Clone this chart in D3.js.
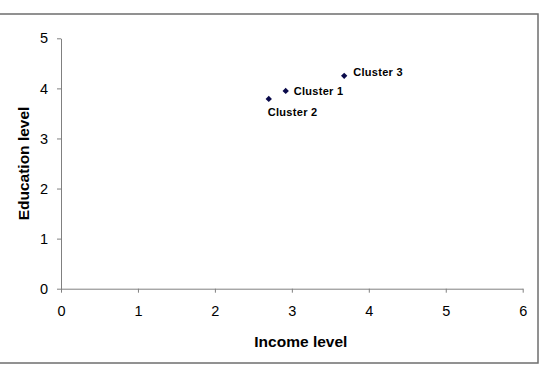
<!DOCTYPE html>
<html>
<head>
<meta charset="utf-8">
<script src="https://cdn.jsdelivr.net/npm/d3@7"></script>
<style>
  body { margin: 0; background: #fff; }
  svg { display: block; font-family: "Liberation Sans", Arial, sans-serif; }
</style>
</head>
<body>
<script>
// data
var clusters = ["Cluster 1", "Cluster 2", "Cluster 3"];
var income = [2.92, 2.70, 3.68];
var education = [3.95, 3.79, 4.25];
var xTicks = [0, 1, 2, 3, 4, 5, 6];
var yTicks = [0, 1, 2, 3, 4, 5];

var W = 540, H = 369;
var svg = d3.select("body").append("svg")
    .attr("width", W)
    .attr("height", H);

// outer chart frame
svg.append("rect")
    .attr("x", -1).attr("y", 14)
    .attr("width", 539).attr("height", 349)
    .attr("fill", "#fff")
    .attr("stroke", "#6e6e6e")
    .attr("stroke-width", 1.5);

var x = d3.scaleLinear().domain([0, 6]).range([61, 522.7]);
var y = d3.scaleLinear().domain([0, 5]).range([288.7, 38.3]);

// x axis
var gx = svg.append("g")
    .attr("transform", "translate(0," + y(0) + ")")
    .call(d3.axisBottom(x).tickValues(xTicks).tickFormat(d3.format("d"))
      .tickSize(4).tickPadding(13).tickSizeOuter(0));
// y axis
var gy = svg.append("g")
    .attr("transform", "translate(" + x(0) + ",0)")
    .call(d3.axisLeft(y).tickValues(yTicks).tickFormat(d3.format("d"))
      .tickSize(4).tickPadding(9).tickSizeOuter(0));

[gx, gy].forEach(function(g) {
  g.selectAll("path, line").attr("stroke", "#808080");
  g.selectAll("text")
    .attr("fill", "#000")
    .style("font-size", "14.5px")
    .style("font-family", "Liberation Sans, Arial, sans-serif");
});

// axis titles
svg.append("text")
    .attr("x", x(3) + 9)
    .attr("y", 347)
    .attr("text-anchor", "middle")
    .attr("font-weight", "bold")
    .style("font-size", "15.5px")
    .text("Income level");

svg.append("text")
    .attr("transform", "translate(29," + y(2.5) + ") rotate(-90)")
    .attr("text-anchor", "middle")
    .attr("font-weight", "bold")
    .style("font-size", "15.5px")
    .text("Education level");

// points
var pts = clusters.map(function(c, i) {
  return { name: c, x: income[i], y: education[i] };
});

svg.selectAll(".pt")
    .data(pts)
    .enter().append("path")
    .attr("class", "pt")
    .attr("transform", function(d) { return "translate(" + x(d.x) + "," + y(d.y) + ") rotate(45)"; })
    .attr("d", d3.symbol().type(d3.symbolSquare).size(20))
    .attr("fill", "#0a0a4a");

// label offsets (Excel placed them slightly differently)
var lblDx = { "Cluster 1": 8, "Cluster 2": -1, "Cluster 3": 9 };
var lblDy = { "Cluster 1": 4.5, "Cluster 2": 17, "Cluster 3": 0 };

svg.selectAll(".lbl")
    .data(pts)
    .enter().append("text")
    .attr("class", "lbl")
    .attr("x", function(d) { return x(d.x) + lblDx[d.name]; })
    .attr("y", function(d) { return y(d.y) + lblDy[d.name]; })
    .attr("font-weight", "bold")
    .style("font-size", "11px")
    .style("letter-spacing", "0.3px")
    .text(function(d) { return d.name; });
</script>
</body>
</html>
